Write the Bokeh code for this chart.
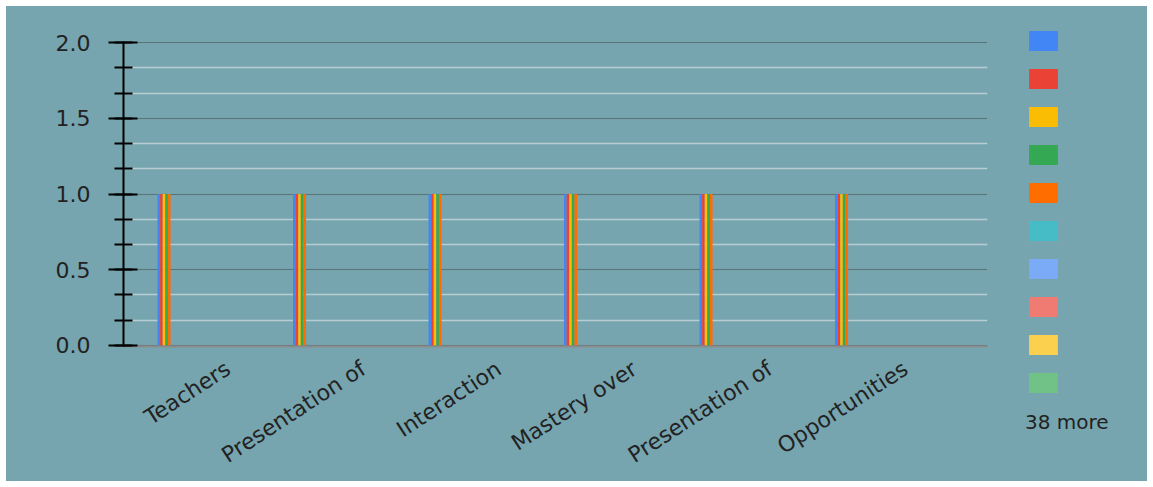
from bokeh.plotting import figure
from bokeh.layouts import row
from bokeh.models import (Range1d, FixedTicker, NumeralTickFormatter, Legend,
                          LegendItem, ColumnDataSource)
from bokeh.embed import file_html
from bokeh.resources import INLINE

# Categories (question labels as displayed, truncated)
categories = ["Teachers", "Presentation of", "Interaction", "Mastery over",
              "Presentation of", "Opportunities"]

# Response counts per series; the first five series each have one response
# per category, the remaining 43 series have none.
series_1 = [1, 1, 1, 1, 1, 1]
series_2 = [1, 1, 1, 1, 1, 1]
series_3 = [1, 1, 1, 1, 1, 1]
series_4 = [1, 1, 1, 1, 1, 1]
series_5 = [1, 1, 1, 1, 1, 1]
empty_series = [0, 0, 0, 0, 0, 0]
n_series = 48
hidden_in_legend = 38

series_values = [series_1, series_2, series_3, series_4, series_5] + \
    [empty_series] * (n_series - 5)

palette = ["#4285f4", "#ea4335", "#fbbc04", "#34a853", "#ff6d01",
           "#46bdc6", "#7baaf7", "#f07b72", "#fcd04f", "#71c287"]

y_ticks = [0, 0.5, 1.0, 1.5, 2.0]

BG = "#76a5af"

# ---- main chart -----------------------------------------------------------
p = figure(width=994, height=475, output_backend="svg", toolbar_location=None,
           x_range=Range1d(-0.211, 6.165), y_range=Range1d(-0.007, 2.007),
           min_border_left=117, min_border_right=13, min_border_top=35,
           min_border_bottom=134, background_fill_color=BG,
           border_fill_color=BG, outline_line_color=None)
p.frame_align = False

# grouped bars: 48 slots per category
group_start = 0.04
bar_w = 0.92 / n_series
for j, vals in enumerate(series_values):
    xs = [i + group_start + (j + 0.5) * bar_w for i in range(len(categories))]
    src = ColumnDataSource(dict(x=xs, top=vals))
    p.vbar(x="x", top="top", bottom=0, width=bar_w, source=src,
           fill_color=palette[j % len(palette)], line_color=None)

# y axis
yax = p.yaxis[0]
yax.ticker = FixedTicker(ticks=y_ticks, minor_ticks=[k / 6 for k in range(13)])
yax.formatter = NumeralTickFormatter(format="0.0")
yax.axis_line_color = "black"
yax.axis_line_width = 2
yax.major_tick_line_color = "black"
yax.major_tick_line_width = 2
yax.major_tick_out = 15
yax.major_tick_in = 14
yax.minor_tick_line_color = "black"
yax.minor_tick_line_width = 2
yax.minor_tick_out = 9
yax.minor_tick_in = 9
yax.major_label_standoff = 18
yax.major_label_text_font = "DejaVu Sans"
yax.major_label_text_font_size = "22px"
yax.major_label_text_color = "#222222"

p.ygrid.grid_line_color = "#55777e"
p.ygrid.grid_line_width = 1.5
p.ygrid.minor_grid_line_color = "#b7cdd1"
p.ygrid.minor_grid_line_width = 1.5
p.xgrid.grid_line_color = None

# x axis with rotated category labels
xax = p.xaxis[0]
label_pos = [i + 0.56 for i in range(len(categories))]
xax.ticker = FixedTicker(ticks=label_pos, minor_ticks=[])
xax.major_label_overrides = {pos: name for pos, name in zip(label_pos, categories)}
xax.major_label_orientation = 0.576
xax.axis_line_color = "#8c8c8c"
xax.axis_line_width = 2
xax.major_tick_line_color = None
xax.minor_tick_line_color = None
xax.major_label_standoff = 14
xax.major_label_text_font = "DejaVu Sans"
xax.major_label_text_font_size = "22px"
xax.major_label_text_color = "#222222"

# ---- legend column ----------------------------------------------------------
lg = figure(width=147, height=475, output_backend="svg", toolbar_location=None,
            x_range=Range1d(0, 1), y_range=Range1d(0, 1),
            min_border=0, x_axis_type=None, y_axis_type=None,
            background_fill_color=BG, border_fill_color=BG,
            outline_line_color=None)
lg.frame_align = False
lg.xgrid.grid_line_color = None
lg.ygrid.grid_line_color = None

# one zero-height swatch renderer per listed series (nothing drawn in the frame)
swatches = []
for j in range(n_series - hidden_in_legend):
    src = ColumnDataSource(dict(x=[0.5], top=[0]))
    swatches.append(lg.vbar(x="x", top="top", bottom=0, width=0.1, source=src,
                            fill_color=palette[j], line_color=None))

items = [LegendItem(label=" ", renderers=[r]) for r in swatches]
legend = Legend(items=items, location=(25, 47), orientation="vertical",
                glyph_width=36, glyph_height=25, spacing=13, padding=0,
                margin=0, label_text_alpha=0, label_text_font_size="1px",
                label_standoff=0, label_width=0, label_height=20,
                title=f"{hidden_in_legend} more", title_location="below",
                title_standoff=15, title_text_font="DejaVu Sans",
                title_text_font_size="20px", title_text_font_style="normal",
                title_text_color="#222222",
                border_line_color=None, background_fill_alpha=0)
lg.add_layout(legend, "center")

layout = row(p, lg, spacing=0)
layout.margin = (6, 6, 6, 6)
layout.styles = {"background-color": BG}
open("out.html", "w").write(file_html(layout, INLINE))
